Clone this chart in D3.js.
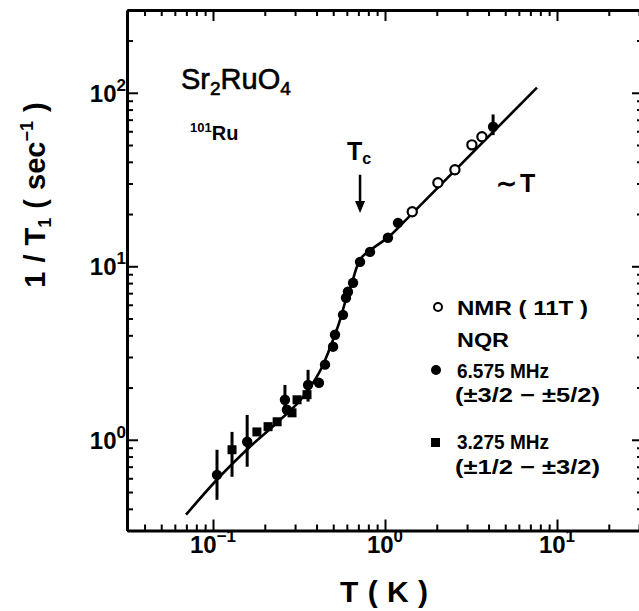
<!DOCTYPE html>
<html>
<head>
<meta charset="utf-8">
<script src="https://cdn.jsdelivr.net/npm/d3@7"></script>
<style>
  body { margin: 0; background: #fff; }
  svg { display: block; font-family: "Liberation Sans", Arial, sans-serif; }
</style>
</head>
<body>
<div id="chart"></div>
<script>
// NMR (11 T), open circles
const nmrT = [1.44, 2.03, 2.55, 3.20, 3.66];
const nmrR = [20.6, 30.3, 36.0, 50.1, 55.8];

// NQR 6.575 MHz (+-3/2 - +-5/2), filled circles ; errLo/errHi null = no bar
const q6T  = [0.1055, 0.158, 0.262, 0.269, 0.357, 0.413, 0.448, 0.499, 0.512, 0.570, 0.593, 0.609, 0.652, 0.716, 0.818, 1.04, 1.19, 4.25];
const q6R  = [0.628, 0.974, 1.70, 1.49, 2.07, 2.13, 2.71, 3.44, 4.03, 5.25, 6.58, 7.13, 8.03, 10.6, 12.1, 14.6, 17.8, 63.7];
const q6Lo = [0.451, 0.699, 1.55, null, 1.66, null, null, null, null, null, null, null, null, null, null, null, null, 57];
const q6Hi = [0.876, 1.39, 2.07, null, 2.53, null, null, null, null, null, null, null, null, null, null, null, null, 75];

// NQR 3.275 MHz (+-1/2 - +-3/2), filled squares
const q3T  = [0.129, 0.180, 0.209, 0.236, 0.288, 0.308, 0.352];
const q3R  = [0.876, 1.11, 1.19, 1.27, 1.43, 1.70, 1.82];
const q3Lo = [0.612, null, null, null, null, null, null];
const q3Hi = [1.11, null, null, null, null, null, null];

// guide line through the data
const fitT = [0.0697, 0.1027, 0.164, 0.245, 0.334, 0.436, 0.499, 0.548, 0.585, 0.642, 0.687, 0.716, 0.818, 1.07, 1.40, 7.65];
const fitR = [0.370, 0.573, 0.911, 1.30, 1.77, 2.70, 3.77, 4.91, 6.16, 8.04, 9.94, 10.9, 12.3, 15.0, 19.6, 107];

// tick labels (powers of ten)
const xMajor = [0.1, 1, 10];
const xExp = ["\u22121", "0", "1"];
const yMajor = [1, 10, 100];
const yExp = ["0", "1", "2"];

// Tc arrow
const tcT = 0.716;
const tcArrowR = [33.7, 20.3];

const width = 639, height = 611;
const svg = d3.select("#chart").append("svg").attr("width", width).attr("height", height)
    .attr("font-weight", "bold");

const x = d3.scaleLog().domain([Math.pow(10, -1.5), Math.pow(10, 1.5)]).range([127, 643]);
const y = d3.scaleLog().domain([0.3, 300]).range([530.5, 10]);

const isDecade = v => Math.abs(Math.log10(v) - Math.round(Math.log10(v))) < 1e-6;
const xTicks = x.ticks().filter(v => v >= x.domain()[0] && v <= x.domain()[1]);
const yTicks = y.ticks().filter(v => v >= y.domain()[0] && v <= y.domain()[1]);

// axes, ticks pointing inward
function styleAxis(g) {
    g.select(".domain").attr("stroke", "#000").attr("stroke-width", 3);
    g.selectAll(".tick line").attr("stroke", "#000").attr("stroke-width", 2);
}
const x0 = x.range()[0], x1 = x.range()[1], y0 = y.range()[0], y1 = y.range()[1];

const axB = svg.append("g").attr("transform", `translate(0,${y0})`)
    .call(d3.axisBottom(x).tickValues(xTicks).tickFormat("").tickSizeOuter(0));
styleAxis(axB);
axB.selectAll(".tick line").attr("y2", d => isDecade(d) ? -11 : -6);

const axT = svg.append("g").attr("transform", `translate(0,${y1})`)
    .call(d3.axisTop(x).tickValues(xTicks).tickFormat("").tickSizeOuter(0));
styleAxis(axT);
axT.selectAll(".tick line").attr("y2", d => isDecade(d) ? 11 : 6);

const axL = svg.append("g").attr("transform", `translate(${x0},0)`)
    .call(d3.axisLeft(y).tickValues(yTicks).tickFormat("").tickSizeOuter(0));
styleAxis(axL);
axL.selectAll(".tick line").attr("x2", d => isDecade(d) ? 11 : 6);

const axR = svg.append("g").attr("transform", `translate(${x1},0)`)
    .call(d3.axisRight(y).tickValues(yTicks).tickFormat("").tickSizeOuter(0));
styleAxis(axR);
axR.selectAll(".tick line").attr("x2", d => isDecade(d) ? -11 : -6);

// tick labels
xMajor.forEach((v, i) => {
    const t = svg.append("text").attr("x", x(v)).attr("y", 553)
        .attr("text-anchor", "middle").attr("font-size", 24);
    t.append("tspan").text("10");
    t.append("tspan").attr("dy", -11).attr("font-size", 17).text(xExp[i]);
});
yMajor.forEach((v, i) => {
    const t = svg.append("text").attr("x", 126).attr("y", y(v) + 9)
        .attr("text-anchor", "end").attr("font-size", 24);
    t.append("tspan").text("10");
    t.append("tspan").attr("dy", -11).attr("font-size", 17).text(yExp[i]);
});

// axis titles
svg.append("text").attr("x", 384).attr("y", 602).attr("text-anchor", "middle")
    .attr("font-size", 30).attr("word-spacing", 1).text("T ( K )");

const yt = svg.append("text").attr("transform", "translate(45,195) rotate(-90)")
    .attr("text-anchor", "middle").attr("font-size", 29).attr("word-spacing", 1);
yt.append("tspan").text("1 / T");
yt.append("tspan").attr("font-size", 18).attr("dy", 6).text("1");
yt.append("tspan").attr("dy", -6).text(" ( sec");
yt.append("tspan").attr("font-size", 18).attr("dy", -12).text("\u22121");
yt.append("tspan").attr("dy", 12).text(" )");

// guide line
const fit = fitT.map((t, i) => ({T: t, R: fitR[i]}));
svg.append("path").datum(fit)
    .attr("fill", "none").attr("stroke", "#000").attr("stroke-width", 2.6)
    .attr("d", d3.line().x(d => x(d.T)).y(d => y(d.R)).curve(d3.curveMonotoneX));

// error bars
function errBars(T, lo, hi) {
    const d = T.map((t, i) => ({T: t, lo: lo[i], hi: hi[i]})).filter(e => e.lo != null);
    svg.append("g").selectAll("line").data(d).enter().append("line")
        .attr("x1", e => x(e.T)).attr("x2", e => x(e.T))
        .attr("y1", e => y(e.lo)).attr("y2", e => y(e.hi))
        .attr("stroke", "#000").attr("stroke-width", 3);
}
errBars(q6T, q6Lo, q6Hi);
errBars(q3T, q3Lo, q3Hi);

// points
svg.append("g").selectAll("circle").data(q6T.map((t, i) => ({T: t, R: q6R[i]}))).enter()
    .append("circle").attr("cx", d => x(d.T)).attr("cy", d => y(d.R)).attr("r", 5.2).attr("fill", "#000");
svg.append("g").selectAll("rect").data(q3T.map((t, i) => ({T: t, R: q3R[i]}))).enter()
    .append("rect").attr("x", d => x(d.T) - 4.5).attr("y", d => y(d.R) - 4.5)
    .attr("width", 9).attr("height", 9).attr("fill", "#000");
svg.append("g").selectAll("circle").data(nmrT.map((t, i) => ({T: t, R: nmrR[i]}))).enter()
    .append("circle").attr("cx", d => x(d.T)).attr("cy", d => y(d.R)).attr("r", 4.6)
    .attr("fill", "#fff").attr("stroke", "#000").attr("stroke-width", 2.2);

// annotations
const f = svg.append("text").attr("x", 181).attr("y", 89).attr("font-size", 29).attr("font-weight", "normal")
    .attr("stroke", "#000").attr("stroke-width", 0.6);
f.append("tspan").text("Sr");
f.append("tspan").attr("font-size", 19).attr("dy", 6).text("2");
f.append("tspan").attr("dy", -6).text("RuO");
f.append("tspan").attr("font-size", 19).attr("dy", 6).text("4");

const ru = svg.append("text").attr("x", 190).attr("y", 140).attr("font-size", 20);
ru.append("tspan").attr("font-size", 13).attr("dy", -8).text("101");
ru.append("tspan").attr("dy", 8).text("Ru");

const tc = svg.append("text").attr("x", 347).attr("y", 160).attr("font-size", 25);
tc.append("tspan").text("T");
tc.append("tspan").attr("font-size", 16).attr("dy", 4).text("c");

svg.append("line").attr("x1", x(tcT)).attr("x2", x(tcT))
    .attr("y1", y(tcArrowR[0])).attr("y2", y(tcArrowR[1]) - 8)
    .attr("stroke", "#000").attr("stroke-width", 2.5);
svg.append("path")
    .attr("d", `M${x(tcT) - 5},${y(tcArrowR[1]) - 12}L${x(tcT) + 5},${y(tcArrowR[1]) - 12}L${x(tcT)},${y(tcArrowR[1])}Z`)
    .attr("fill", "#000");

const tl = svg.append("text").attr("x", 496).attr("y", 192).attr("font-size", 25);
tl.append("tspan").text("\u223C");
tl.append("tspan").attr("dx", 3).text("T");

// legend
const lg = svg.append("g").attr("font-size", 20);
function legText(xp, yp, s, len) {
    const t = lg.append("text").attr("x", xp).attr("y", yp).text(s);
    if (len) t.attr("textLength", len).attr("lengthAdjust", "spacingAndGlyphs");
}
lg.append("circle").attr("cx", 438).attr("cy", 307).attr("r", 4).attr("fill", "#fff")
    .attr("stroke", "#000").attr("stroke-width", 2);
legText(457, 315, "NMR ( 11T )", 131);
legText(457, 347, "NQR", 52);
lg.append("circle").attr("cx", 436).attr("cy", 370).attr("r", 5).attr("fill", "#000");
legText(457, 378, "6.575 MHz", 92);
legText(455, 402, "(\u00B13/2 \u2212 \u00B15/2)", 145);
lg.append("rect").attr("x", 431).attr("y", 438).attr("width", 9).attr("height", 9).attr("fill", "#000");
legText(457, 449, "3.275 MHz", 92);
legText(455, 474, "(\u00B11/2 \u2212 \u00B13/2)", 145);
</script>
</body>
</html>
